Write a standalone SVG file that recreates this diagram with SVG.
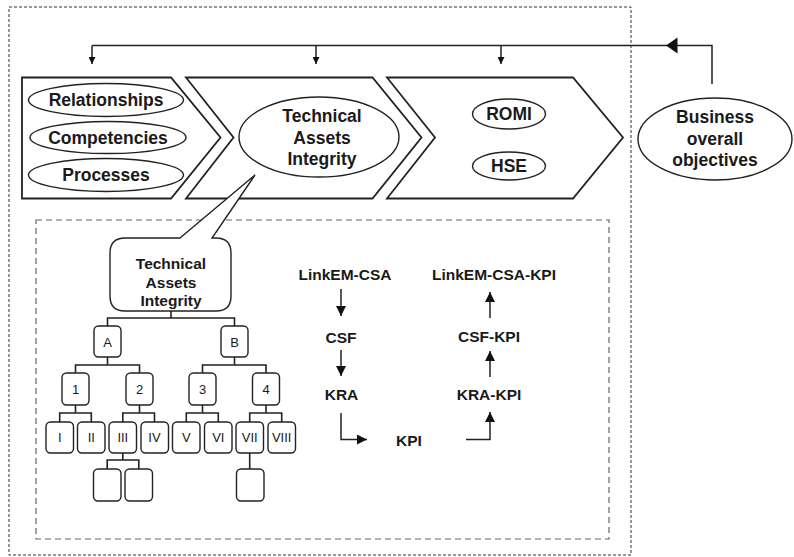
<svg xmlns="http://www.w3.org/2000/svg" width="794" height="557" viewBox="0 0 794 557">
<defs>
<style>
.frame{fill:none;stroke:#333;stroke-width:1;stroke-dasharray:3 2}
.inner{fill:none;stroke:#666;stroke-width:1.2;stroke-dasharray:6 4}
.chev{fill:#fff;stroke:#222;stroke-width:1.8;stroke-linejoin:miter}
.ell{fill:#fff;stroke:#222;stroke-width:1.4}
.box{fill:#fff;stroke:#222;stroke-width:1.4}
.ln{fill:none;stroke:#222;stroke-width:1.5}
.tl{fill:none;stroke:#222;stroke-width:1.6}
.b{font-family:"Liberation Sans",Arial,sans-serif;font-weight:bold;fill:#1a1a1a;text-anchor:middle}
.r{font-family:"Liberation Sans",Arial,sans-serif;fill:#1a1a1a;text-anchor:middle;font-size:13px}
</style>
<marker id="ah" viewBox="0 0 10 10" refX="10" refY="5" markerWidth="10" markerHeight="10" markerUnits="userSpaceOnUse" orient="auto">
<path d="M0,0 L10,5 L0,10 z" fill="#111"/>
</marker>
<marker id="sa" viewBox="0 0 10 10" refX="10" refY="5" markerWidth="7" markerHeight="7" markerUnits="userSpaceOnUse" orient="auto">
<path d="M0,0 L10,5 L0,10 z" fill="#111"/>
</marker>
</defs>
<rect width="794" height="557" fill="#fff"/>
<rect class="frame" x="9" y="7" width="622" height="548"/>
<rect class="inner" x="36" y="220" width="573" height="319"/>

<g id="connectors">
<path class="ln" d="M712,84 V45.5 H92"/>
<path d="M666,45.5 L677.5,37.5 L677.5,53.5 z" fill="#111"/>
<line class="ln" x1="92" y1="45.5" x2="92" y2="64" marker-end="url(#sa)"/>
<line class="ln" x1="316" y1="45.5" x2="316" y2="64" marker-end="url(#sa)"/>
<line class="ln" x1="501" y1="45.5" x2="501" y2="64" marker-end="url(#sa)"/>
<line class="ln" x1="341" y1="289" x2="341" y2="316" marker-end="url(#ah)"/>
<line class="ln" x1="341" y1="350" x2="341" y2="376" marker-end="url(#ah)"/>
<path class="ln" d="M341,413 V439.5 H367" marker-end="url(#ah)"/>
<path class="ln" d="M466,439.5 H490 V412" marker-end="url(#ah)"/>
<line class="ln" x1="490" y1="377" x2="490" y2="351" marker-end="url(#ah)"/>
<line class="ln" x1="490" y1="318" x2="490" y2="292" marker-end="url(#ah)"/>
</g>

<g id="chevron1">
<path class="chev" d="M22,77.5 H171 L220.5,137.5 L171,198.5 H22 z"/>
<ellipse class="ell" cx="106" cy="100" rx="77.5" ry="16.5"/>
<text class="b" x="106" y="106" font-size="17.5">Relationships</text>
<ellipse class="ell" cx="108" cy="137.5" rx="78" ry="16"/>
<text class="b" x="108" y="143.5" font-size="17.5">Competencies</text>
<ellipse class="ell" cx="106" cy="175" rx="77.5" ry="16.5"/>
<text class="b" x="106" y="181" font-size="17.5">Processes</text>
</g>

<g id="chevron2">
<path class="chev" d="M186,77.5 H372.5 L421.5,137.5 L372.5,198.5 H186 L233.5,137.5 z"/>
<ellipse class="ell" cx="319" cy="137" rx="80" ry="40"/>
<text class="b" x="322" y="122" font-size="17.5">Technical</text>
<text class="b" x="322" y="144" font-size="17.5">Assets</text>
<text class="b" x="322" y="165" font-size="17.5">Integrity</text>
</g>

<g id="chevron3">
<path class="chev" d="M387,77.5 H573 L623,137.5 L573,198.5 H387 L435,137.5 z"/>
<ellipse class="ell" cx="509" cy="114" rx="36.5" ry="15"/>
<text class="b" x="509" y="120" font-size="17.5">ROMI</text>
<ellipse class="ell" cx="509" cy="166" rx="36.5" ry="14"/>
<text class="b" x="509" y="172" font-size="17.5">HSE</text>
</g>

<g id="business">
<ellipse class="ell" cx="715" cy="139" rx="77" ry="41"/>
<text class="b" x="715" y="123" font-size="17.5">Business</text>
<text class="b" x="715" y="145" font-size="17.5">overall</text>
<text class="b" x="715" y="166" font-size="17.5">objectives</text>
</g>

<g id="callout">
<path class="box" d="M180,238 L255,175 L212,238 H216 Q231,238 231,253 V296 Q231,311 216,311 H125 Q110,311 110,296 V253 Q110,238 125,238 z" stroke-linejoin="miter"/>
<text class="b" x="171" y="269" font-size="15.5">Technical</text>
<text class="b" x="171" y="288" font-size="15.5">Assets</text>
<text class="b" x="171" y="306" font-size="15.5">Integrity</text>
</g>

<g id="tree-lines">
<path class="tl" d="M171,311 V318 M107.5,326 V318 H234.5 V326"/>
<path class="tl" d="M107.5,357 V365 M75.5,373 V365 H139.5 V373"/>
<path class="tl" d="M234.5,357 V365 M202.5,373 V365 H266 V373"/>
<path class="tl" d="M75.5,405 V413 M59.7,422 V413 H91.3 V422"/>
<path class="tl" d="M139.5,405 V413 M122.8,422 V413 H154.5 V422"/>
<path class="tl" d="M202.5,405 V413 M186.3,422 V413 H218.3 V422"/>
<path class="tl" d="M266,405 V413 M249.7,422 V413 H281.7 V422"/>
<path class="tl" d="M122.8,453 V460 M107.2,469 V460 H138.8 V469"/>
<path class="tl" d="M249.7,453 V469"/>
</g>

<g id="node-A"><rect class="box" x="94" y="326" width="27" height="31" rx="4.5"/><text class="r" x="107.5" y="346.5" font-size="14">A</text></g>
<g id="node-B"><rect class="box" x="221" y="326" width="27" height="31" rx="4.5"/><text class="r" x="234.5" y="346.5" font-size="14">B</text></g>
<g id="node-1"><rect class="box" x="62" y="373" width="27" height="32" rx="4.5"/><text class="r" x="75.5" y="394">1</text></g>
<g id="node-2"><rect class="box" x="126" y="373" width="27" height="32" rx="4.5"/><text class="r" x="139.5" y="394">2</text></g>
<g id="node-3"><rect class="box" x="189" y="373" width="27" height="32" rx="4.5"/><text class="r" x="202.5" y="394">3</text></g>
<g id="node-4"><rect class="box" x="252.5" y="373" width="27" height="32" rx="4.5"/><text class="r" x="266" y="394">4</text></g>
<g id="node-I"><rect class="box" x="46" y="422" width="27.5" height="31" rx="4.5"/><text class="r" x="59.7" y="442">I</text></g>
<g id="node-II"><rect class="box" x="77.5" y="422" width="27.5" height="31" rx="4.5"/><text class="r" x="91.3" y="442">II</text></g>
<g id="node-III"><rect class="box" x="109" y="422" width="27.5" height="31" rx="4.5"/><text class="r" x="122.8" y="442">III</text></g>
<g id="node-IV"><rect class="box" x="141" y="422" width="27.5" height="31" rx="4.5"/><text class="r" x="154.5" y="442">IV</text></g>
<g id="node-V"><rect class="box" x="172.5" y="422" width="27.5" height="31" rx="4.5"/><text class="r" x="186.3" y="442">V</text></g>
<g id="node-VI"><rect class="box" x="204.5" y="422" width="27.5" height="31" rx="4.5"/><text class="r" x="218.3" y="442">VI</text></g>
<g id="node-VII"><rect class="box" x="236" y="422" width="27.5" height="31" rx="4.5"/><text class="r" x="249.7" y="442">VII</text></g>
<g id="node-VIII"><rect class="box" x="268" y="422" width="27.5" height="31" rx="4.5"/><text class="r" x="281.7" y="442">VIII</text></g>
<g id="node-III-a"><rect class="box" x="93.5" y="469" width="27.5" height="32" rx="4.5"/></g>
<g id="node-III-b"><rect class="box" x="125" y="469" width="27.5" height="32" rx="4.5"/></g>
<g id="node-VII-a"><rect class="box" x="236.5" y="469" width="27.5" height="32" rx="4.5"/></g>

<g id="flow-left">
<text class="b" x="345" y="280" font-size="15.5">LinkEM-CSA</text>
<text class="b" x="341" y="343" font-size="15.5">CSF</text>
<text class="b" x="341.5" y="400" font-size="15.5">KRA</text>
</g>
<g id="flow-kpi"><text class="b" x="409" y="445.5" font-size="15.5">KPI</text></g>
<g id="flow-right">
<text class="b" x="494" y="280" font-size="15.5">LinkEM-CSA-KPI</text>
<text class="b" x="489" y="342" font-size="15.5">CSF-KPI</text>
<text class="b" x="489" y="400" font-size="15.5">KRA-KPI</text>
</g>
</svg>
